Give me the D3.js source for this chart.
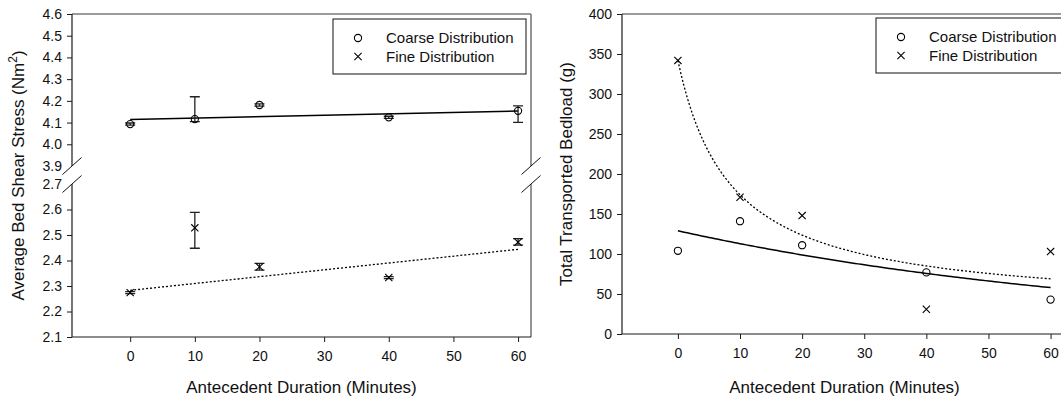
<!DOCTYPE html>
<html>
<head>
<meta charset="utf-8">
<script src="https://cdn.jsdelivr.net/npm/d3@7"></script>
<style>
  body { margin: 0; background: #fff; }
  svg { font-family: "Liberation Sans", Arial, Helvetica, sans-serif; }
  .tick text { font-size: 14px; fill: #111; }
</style>
</head>
<body>
<svg id="chart" width="1061" height="400"></svg>
<script>
// data
const durations = [0, 10, 20, 40, 60];
const xTicks = [0, 10, 20, 30, 40, 50, 60];

// left panel: average bed shear stress (mean, lower bar, upper bar)
const coarseShear   = [4.093, 4.116, 4.181, 4.124, 4.154];
const coarseShearLo = [4.088, 4.104, 4.176, 4.119, 4.101];
const coarseShearHi = [4.098, 4.219, 4.186, 4.129, 4.177];
const fineShear     = [2.274, 2.528, 2.375, 2.333, 2.472];
const fineShearLo   = [2.270, 2.448, 2.362, 2.329, 2.460];
const fineShearHi   = [2.278, 2.589, 2.389, 2.337, 2.486];
const upperTicks = [3.9, 4.0, 4.1, 4.2, 4.3, 4.4, 4.5, 4.6];
const lowerTicks = [2.1, 2.2, 2.3, 2.4, 2.5, 2.6, 2.7];
// linear fits (intercept, slope)
const coarseShearFit = [4.114, 0.00065];
const fineShearFit   = [2.283, 0.00268];

// right panel: total transported bedload (g)
const coarseLoad = [104, 141, 111, 77, 43];
const fineLoad   = [342, 171, 148, 31, 103];
const loadTicks = [0, 50, 100, 150, 200, 250, 300, 350, 400];
// coarse: a*exp(-b x); fine: y0 + a*b/(b+x)
const coarseLoadFit = [129, 0.01332];
const fineLoadFit   = [30, 312, 8.57];

const legendLabels = ["Coarse Distribution", "Fine Distribution"];

const svg = d3.select("#chart");
const AXIS = "#1a1a1a", FRAME = "#7a7a7a";

function drawCircle(g, x, y) {
  g.append("circle").attr("cx", x).attr("cy", y).attr("r", 3.6)
    .attr("fill", "none").attr("stroke", "#000").attr("stroke-width", 1.1);
}
function drawCross(g, x, y) {
  const s = 3.6;
  g.append("path").attr("d", `M${x-s},${y-s}L${x+s},${y+s}M${x-s},${y+s}L${x+s},${y-s}`)
    .attr("stroke", "#000").attr("stroke-width", 1.1);
}
function errorBar(g, x, y0, y1) {
  g.append("path").attr("d", `M${x},${y0}L${x},${y1}M${x-5},${y0}L${x+5},${y0}M${x-5},${y1}L${x+5},${y1}`)
    .attr("stroke", "#222").attr("stroke-width", 1.3).attr("fill", "none");
}
function legend(g, x, y) {
  g.append("rect").attr("x", x).attr("y", y).attr("width", 193).attr("height", 55)
    .attr("fill", "#fff").attr("stroke", "#111").attr("stroke-width", 1);
  drawCircle(g, x + 25, y + 19);
  drawCross(g, x + 25, y + 37.5);
  legendLabels.forEach((t, i) => {
    g.append("text").attr("x", x + 53).attr("y", y + 19 + i * 18.5).attr("dy", "0.36em")
      .attr("font-size", 15).attr("fill", "#111").text(t);
  });
}
function xAxisTitle(g, cx) {
  g.append("text").attr("x", cx).attr("y", 393).attr("text-anchor", "middle")
    .attr("font-size", 17).attr("fill", "#111").text("Antecedent Duration (Minutes)");
}
function breakMark(g, x, y) {
  g.append("line").attr("x1", x - 9.5).attr("y1", y + 8.5).attr("x2", x + 9.5).attr("y2", y - 8.5)
    .attr("stroke", "#111").attr("stroke-width", 1);
}

// ---------------- left panel ----------------
const L = { left: 72, right: 531, top: 14, bottom: 337 };
const xL = d3.scaleLinear().domain([-9, 62]).range([L.left, L.right]);
const yUp = d3.scaleLinear().domain([3.9, 4.6]).range([166, L.top]);
const yLo = d3.scaleLinear().domain([2.1, 2.7]).range([L.bottom, 184]);
const gL = svg.append("g");

// frame: top and right in grey
gL.append("line").attr("x1", L.left).attr("x2", L.right).attr("y1", L.top).attr("y2", L.top)
  .attr("stroke", FRAME).attr("stroke-width", 1.6);
[[L.top, yUp(3.9)], [yLo(2.7), L.bottom]].forEach(([a, b]) => {
  gL.append("line").attr("x1", L.right).attr("x2", L.right).attr("y1", a).attr("y2", b)
    .attr("stroke", FRAME).attr("stroke-width", 1.6);
});

const axU = gL.append("g").attr("transform", `translate(${L.left},0)`)
  .call(d3.axisLeft(yUp).tickValues(upperTicks).tickFormat(d3.format(".1f")).tickSize(5).tickPadding(5));
const axD = gL.append("g").attr("transform", `translate(${L.left},0)`)
  .call(d3.axisLeft(yLo).tickValues(lowerTicks).tickFormat(d3.format(".1f")).tickSize(5).tickPadding(5));
[axU, axD].forEach(a => {
  a.select(".domain").remove();
  a.selectAll(".tick line").attr("stroke", AXIS)
    .filter(d => d === 3.9 || d === 2.7).remove();
});
[[L.top, yUp(3.9)], [yLo(2.7), L.bottom]].forEach(([a, b]) => {
  gL.append("line").attr("x1", L.left).attr("x2", L.left).attr("y1", a).attr("y2", b)
    .attr("stroke", AXIS).attr("stroke-width", 1.2);
});
breakMark(gL, L.left, yUp(3.9));
breakMark(gL, L.left, yLo(2.7));
breakMark(gL, L.right, yUp(3.9));
breakMark(gL, L.right, yLo(2.7));

const axXL = gL.append("g").attr("transform", `translate(0,${L.bottom})`)
  .call(d3.axisBottom(xL).tickValues(xTicks).tickSize(5).tickPadding(9));
axXL.select(".domain").attr("stroke", AXIS).attr("stroke-width", 1.2).attr("d", `M${L.left},0H${L.right}`);
axXL.selectAll(".tick line").attr("stroke", AXIS);

// fits
const fitLine = (f, y) => d3.line()(d3.range(0, 61, 60).map(x => [xL(x), y(f[0] + f[1] * x)]));
gL.append("path").attr("d", fitLine(coarseShearFit, yUp)).attr("stroke", "#000")
  .attr("stroke-width", 1.5).attr("fill", "none");
gL.append("path").attr("d", fitLine(fineShearFit, yLo)).attr("stroke", "#000")
  .attr("stroke-width", 1.3).attr("stroke-dasharray", "2,2").attr("fill", "none");

durations.forEach((d, i) => {
  errorBar(gL, xL(d), yUp(coarseShearLo[i]), yUp(coarseShearHi[i]));
  drawCircle(gL, xL(d), yUp(coarseShear[i]));
  errorBar(gL, xL(d), yLo(fineShearLo[i]), yLo(fineShearHi[i]));
  drawCross(gL, xL(d), yLo(fineShear[i]));
});

legend(gL, 333, 19);
xAxisTitle(gL, (L.left + L.right) / 2);
const tl = gL.append("text").attr("transform", `translate(24,${(L.top + L.bottom) / 2}) rotate(-90)`)
  .attr("text-anchor", "middle").attr("font-size", 17).attr("fill", "#111");
tl.append("tspan").text("Average Bed Shear Stress (Nm");
tl.append("tspan").attr("dy", -7).attr("font-size", 12).text("2");
tl.append("tspan").attr("dy", 7).text(")");

// ---------------- right panel ----------------
const R = { left: 622, right: 1063, top: 14, bottom: 334 };
const xR = d3.scaleLinear().domain([-9, 62]).range([R.left, R.right]);
const yR = d3.scaleLinear().domain([0, 400]).range([R.bottom, R.top]);
const gR = svg.append("g");

gR.append("line").attr("x1", R.left).attr("x2", R.right).attr("y1", R.top).attr("y2", R.top)
  .attr("stroke", FRAME).attr("stroke-width", 1.6);
const axYR = gR.append("g").attr("transform", `translate(${R.left},0)`)
  .call(d3.axisLeft(yR).tickValues(loadTicks).tickSize(5).tickPadding(5));
axYR.select(".domain").attr("stroke", AXIS).attr("stroke-width", 1.2).attr("d", `M0,${R.top}V${R.bottom}`);
axYR.selectAll(".tick line").attr("stroke", AXIS);
const axXR = gR.append("g").attr("transform", `translate(0,${R.bottom})`)
  .call(d3.axisBottom(xR).tickValues(xTicks).tickSize(5).tickPadding(9));
axXR.select(".domain").attr("stroke", AXIS).attr("stroke-width", 1.2).attr("d", `M${R.left},0H${R.right}`);
axXR.selectAll(".tick line").attr("stroke", AXIS);

const xs = d3.range(0, 60.01, 0.5);
const curve = f => d3.line().x(x => xR(x)).y(x => yR(f(x)))(xs);
gR.append("path").attr("d", curve(x => coarseLoadFit[0] * Math.exp(-coarseLoadFit[1] * x)))
  .attr("stroke", "#000").attr("stroke-width", 1.5).attr("fill", "none");
gR.append("path").attr("d", curve(x => fineLoadFit[0] + fineLoadFit[1] * fineLoadFit[2] / (fineLoadFit[2] + x)))
  .attr("stroke", "#000").attr("stroke-width", 1.3).attr("stroke-dasharray", "2,2").attr("fill", "none");

durations.forEach((d, i) => {
  drawCircle(gR, xR(d), yR(coarseLoad[i]));
  drawCross(gR, xR(d), yR(fineLoad[i]));
});

legend(gR, 876, 18);
xAxisTitle(gR, (R.left + R.right) / 2 + 2);
gR.append("text").attr("transform", `translate(572,${(R.top + R.bottom) / 2}) rotate(-90)`)
  .attr("text-anchor", "middle").attr("font-size", 17).attr("fill", "#111")
  .text("Total Transported Bedload (g)");
</script>
</body>
</html>
